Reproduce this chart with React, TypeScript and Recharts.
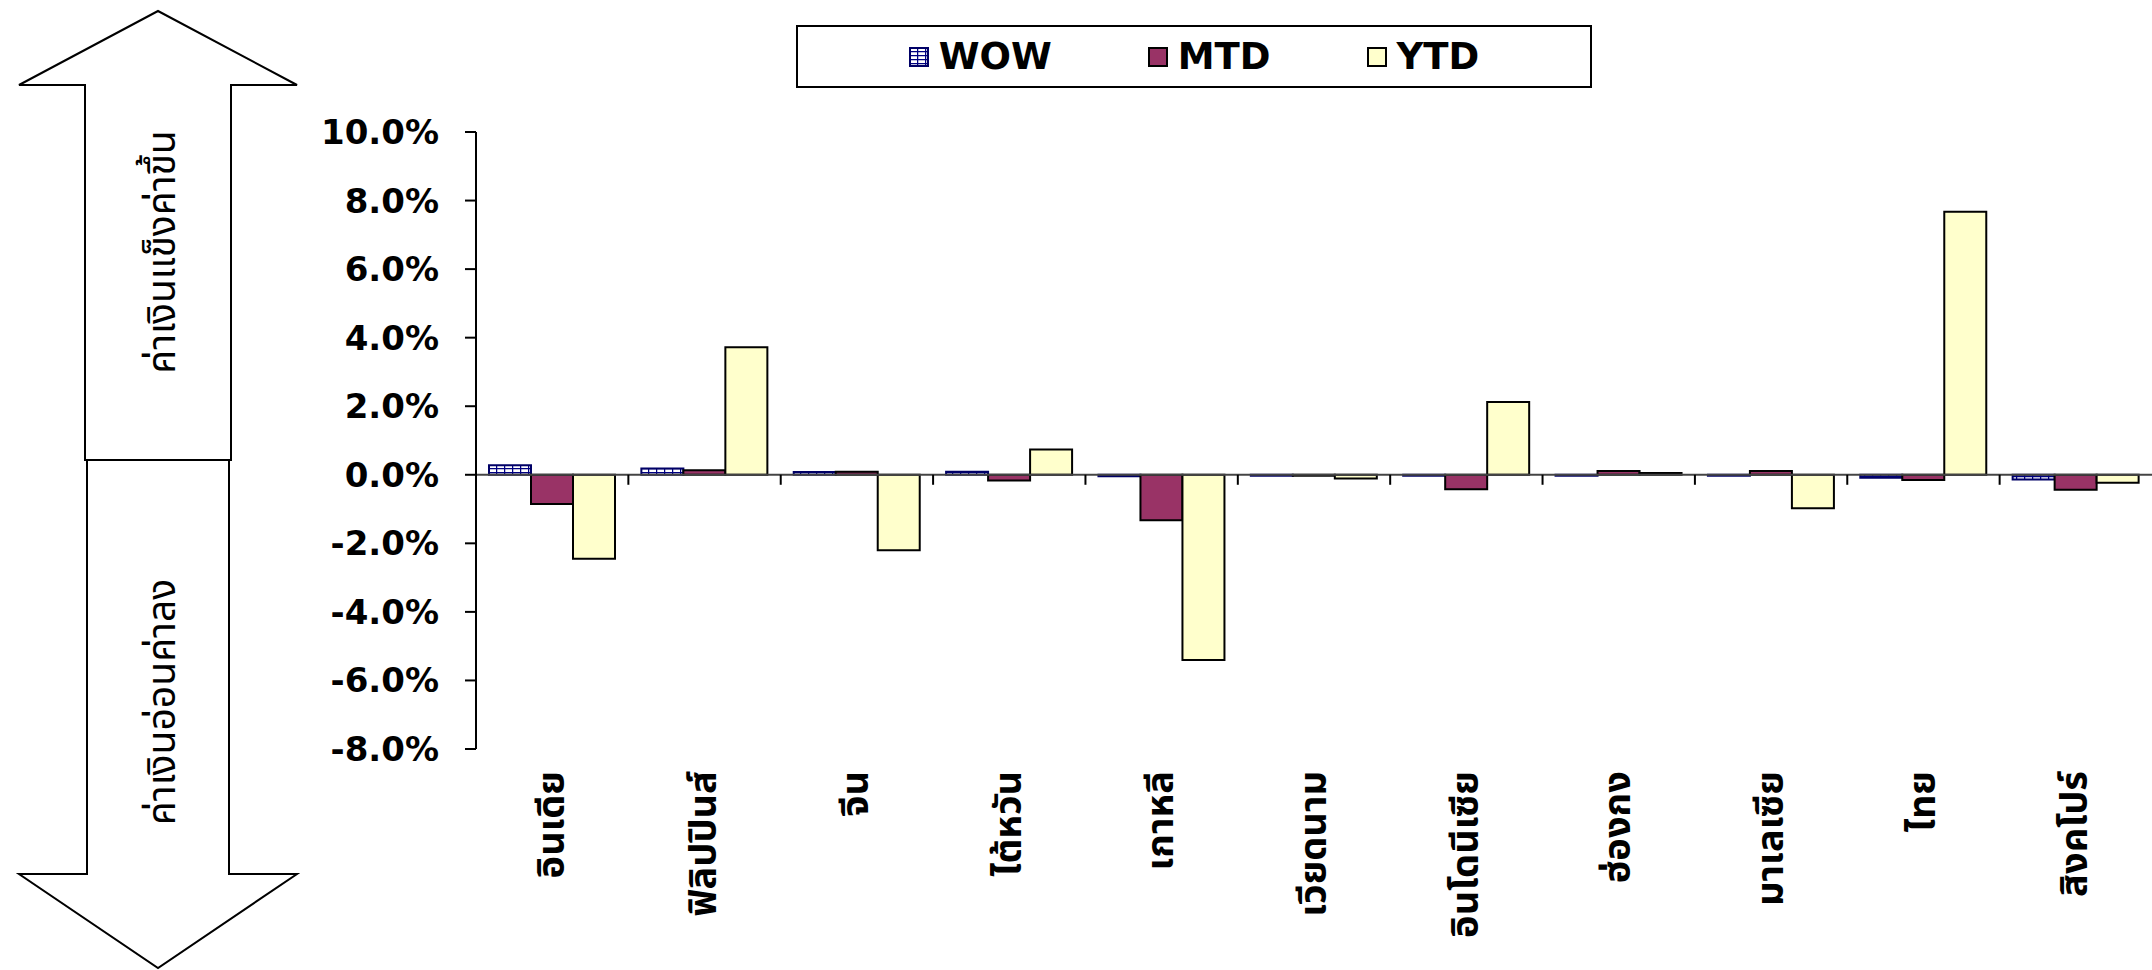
import { BarChart, Bar, XAxis, YAxis, Legend, ReferenceLine } from 'recharts';

const CATEGORIES = ['อินเดีย', 'ฟิลิปปินส์', 'จีน', 'ไต้หวัน', 'เกาหลี', 'เวียดนาม', 'อินโดนีเซีย', 'ฮ่องกง', 'มาเลเซีย', 'ไทย', 'สิงคโปร์'];
const WOW = [0.28, 0.18, 0.08, 0.09, -0.04, -0.03, -0.03, -0.03, -0.03, -0.09, -0.14];
const MTD = [-0.85, 0.13, 0.09, -0.17, -1.33, -0.03, -0.42, 0.11, 0.11, -0.15, -0.44];
const YTD = [-2.45, 3.72, -2.2, 0.74, -5.4, -0.11, 2.12, 0.05, -0.98, 7.67, -0.23];
const Y_TICKS = [-8, -6, -4, -2, 0, 2, 4, 6, 8, 10];
const SERIES = [
  { key: 'wow', name: 'WOW' },
  { key: 'mtd', name: 'MTD' },
  { key: 'ytd', name: 'YTD' },
];
const UP_TEXT = 'ค่าเงินแข็งค่าขึ้น';
const DOWN_TEXT = 'ค่าเงินอ่อนค่าลง';

const rows = CATEGORIES.map((name, i) => ({ name, wow: WOW[i], mtd: MTD[i], ytd: YTD[i] }));

const W = 2152;
const H = 970;
const PLOT_LEFT = 476;
const PLOT_TOP = 132;
const PLOT_BOTTOM = 749;
const X_AXIS_H = 30;
const Y_MIN = -8;
const Y_MAX = 10;
const ZERO_Y = PLOT_TOP + ((PLOT_BOTTOM - PLOT_TOP) * Y_MAX) / (Y_MAX - Y_MIN);
const BAND = (W - PLOT_LEFT) / CATEGORIES.length;

const LATIN = "'DejaVu Sans', Verdana, sans-serif";
const THAI = "'Noto Sans Thai', 'Noto Sans Thai Looped', Tahoma, Loma, Garuda, 'DejaVu Sans', 'Noto Sans', sans-serif";

const FILLS: Record<string, string> = { wow: 'url(#wowGrid)', mtd: '#993366', ytd: '#FFFFCC' };
const STROKES: Record<string, string> = { wow: '#000066', mtd: '#000', ytd: '#000' };

const XTick = (props: any) => {
  const { x, y, payload, index } = props;
  return (
    <g>
      {index < CATEGORIES.length - 1 && (
        <line x1={x + BAND / 2} x2={x + BAND / 2} y1={ZERO_Y} y2={ZERO_Y + 10} stroke="#000" strokeWidth={2} />
      )}
      <text
        transform={`translate(${x},${y}) rotate(-90)`}
        textAnchor="end"
        dominantBaseline="central"
        fontFamily={THAI}
        fontWeight="bold"
        fontSize={38}
        fill="#000"
      >
        {payload.value}
      </text>
    </g>
  );
};

const YTick = (props: any) => {
  const { x, y, payload } = props;
  return (
    <text x={x} y={y} textAnchor="end" dominantBaseline="central" fontFamily={LATIN} fontWeight="bold" fontSize={34} fill="#000">
      {payload.value.toFixed(1)}%
    </text>
  );
};

const LegendBox = () => (
  <div
    style={{
      boxSizing: 'border-box',
      width: '100%',
      height: '100%',
      border: '2px solid #000',
      background: '#fff',
      display: 'flex',
      alignItems: 'center',
      justifyContent: 'center',
      gap: 96,
      fontFamily: LATIN,
      fontWeight: 'bold',
      fontSize: 37,
    }}
  >
    {SERIES.map((s) => (
      <div key={s.key} style={{ display: 'flex', alignItems: 'center', gap: 10 }}>
        <svg width={20} height={20}>
          <rect x={1} y={1} width={18} height={18} fill={FILLS[s.key]} stroke={STROKES[s.key]} strokeWidth={2} />
        </svg>
        <span>{s.name}</span>
      </div>
    ))}
  </div>
);

const Arrows = () => (
  <svg width={310} height={H} style={{ position: 'absolute', left: 0, top: 0 }}>
    <polygon points="158,11 297,85 231,85 231,460 85,460 85,85 19,85" fill="#fff" stroke="#000" strokeWidth={2} />
    <polygon points="87,460 229,460 229,874 297,874 158,968 19,874 87,874" fill="#fff" stroke="#000" strokeWidth={2} />
    <text transform="translate(163,252) rotate(-90)" textAnchor="middle" dominantBaseline="central" fontFamily={THAI} fontSize={39} fill="#000">
      {UP_TEXT}
    </text>
    <text transform="translate(163,702) rotate(-90)" textAnchor="middle" dominantBaseline="central" fontFamily={THAI} fontSize={39} fill="#000">
      {DOWN_TEXT}
    </text>
  </svg>
);

export default function App() {
  return (
    <div style={{ position: 'absolute', left: 0, top: 0, width: W, height: H, background: '#fff' }}>
      <svg width={0} height={0} style={{ position: 'absolute' }}>
        <defs>
          <pattern id="wowGrid" width={8} height={4} patternUnits="userSpaceOnUse">
            <rect width={8} height={4} fill="#fff" />
            <path d="M0 0.5H8M0.5 0V4" stroke="#000080" strokeWidth={1.5} />
          </pattern>
        </defs>
      </svg>
      <Arrows />
      <div style={{ position: 'absolute', left: 0, top: 0 }}>
        <BarChart
          width={W}
          height={H}
          data={rows}
          margin={{ top: PLOT_TOP, right: 0, left: 0, bottom: H - PLOT_BOTTOM - X_AXIS_H }}
          barGap={0}
        >
          <XAxis
            dataKey="name"
            height={X_AXIS_H}
            axisLine={false}
            tickLine={false}
            tickSize={0}
            tickMargin={22}
            interval={0}
            tick={<XTick />}
          />
          <YAxis
            width={PLOT_LEFT}
            domain={[Y_MIN, Y_MAX]}
            ticks={Y_TICKS}
            interval={0}
            axisLine={{ stroke: '#000', strokeWidth: 2 }}
            tickLine={{ stroke: '#000', strokeWidth: 2 }}
            tickSize={11}
            tickMargin={26}
            tick={<YTick />}
          />
          <ReferenceLine y={0} stroke="#444" strokeWidth={2} />
          <Legend
            layout="horizontal"
            verticalAlign="middle"
            align="center"
            wrapperStyle={{ top: 25, left: 796, width: 796, height: 63 }}
            content={<LegendBox />}
          />
          {SERIES.map((s) => (
            <Bar
              key={s.key}
              dataKey={s.key}
              name={s.name}
              fill={FILLS[s.key]}
              stroke={STROKES[s.key]}
              strokeWidth={2}
              barSize={42}
              isAnimationActive={false}
            />
          ))}
        </BarChart>
      </div>
    </div>
  );
}
